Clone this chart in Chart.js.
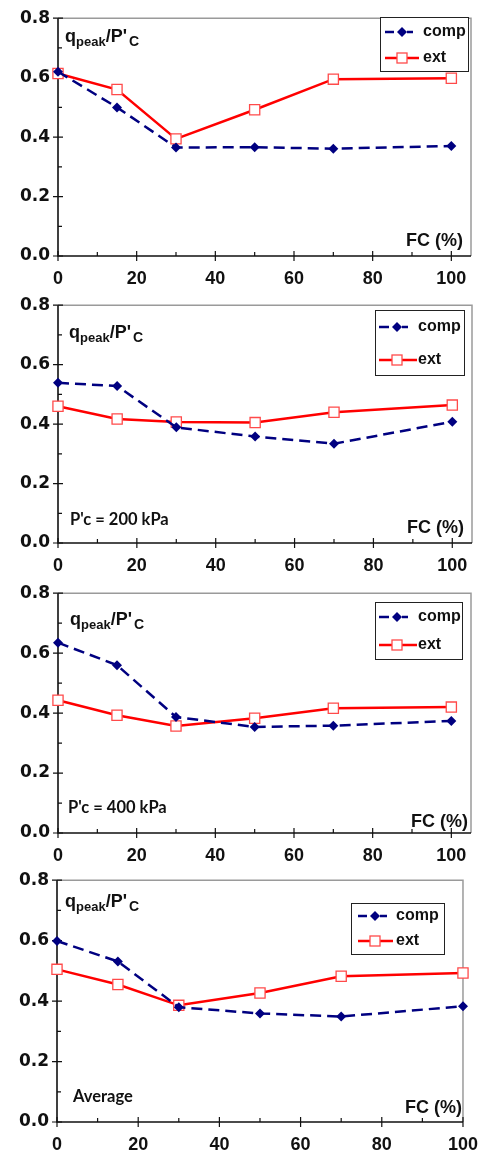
<!DOCTYPE html>
<html>
<head>
<meta charset="utf-8">
<script src="https://cdn.jsdelivr.net/npm/chart.js@4.4.0/dist/chart.umd.min.js"></script>
<style>
  html, body { margin: 0; padding: 0; background: #fff; }
  #wrap { position: relative; width: 490px; height: 1151px; }
  #wrap canvas { position: absolute; left: 0; }
</style>
</head>
<body>
<div id="wrap"></div>
<script>
// FC (%) — same x positions in every panel
var fc = [0, 15, 30, 50, 70, 100];

// qpeak / P'c for compression (comp) and extension (ext)
var comp1 = [0.62, 0.50, 0.365, 0.366, 0.361, 0.37];
var ext1  = [0.614, 0.56, 0.394, 0.492, 0.595, 0.598];
var comp2 = [0.539, 0.528, 0.389, 0.358, 0.334, 0.408];
var ext2  = [0.46, 0.417, 0.407, 0.405, 0.44, 0.464];
var comp3 = [0.635, 0.56, 0.387, 0.354, 0.358, 0.374];
var ext3  = [0.443, 0.393, 0.357, 0.383, 0.416, 0.42];
var compAvg = [0.599, 0.531, 0.38, 0.359, 0.349, 0.383];
var extAvg  = [0.505, 0.455, 0.386, 0.427, 0.482, 0.493];

var xTicks = [0, 20, 40, 60, 80, 100];
var yTicks = [0, 0.2, 0.4, 0.6, 0.8];

var BOLD = '"Liberation Sans", Arial, sans-serif';
var WIDE = '"DejaVu Sans", sans-serif';
var NAVY = '#000080';
var RED = '#ff0000';

var panels = [
  { top: 0, height: 287, comp: comp1, ext: ext1, xMax: 105, note: '',
    area: { top: 15, bottom: 256, left: 58, right: 471 },
    legend: { box: [380, 17, 88, 54], compY: 32, extY: 58, x0: 385, compEnd: 413, extEnd: 419, mark: 402, text: 423 },
    title: [65, 42], fcLabel: [463, 246], noteAt: null },
  { top: 287, height: 288, comp: comp2, ext: ext2, xMax: 105, note: "P'c = 200 kPa",
    area: { top: 15, bottom: 256, left: 58, right: 472 },
    legend: { box: [375, 23, 89, 65], compY: 40, extY: 73, x0: 379, compEnd: 408, extEnd: 417, mark: 397, text: 418 },
    title: [69, 51], fcLabel: [464, 246], noteAt: [70, 238] },
  { top: 575, height: 287, comp: comp3, ext: ext3, xMax: 105, note: "P'c = 400 kPa",
    area: { top: 16, bottom: 258, left: 58, right: 471 },
    legend: { box: [375, 27, 87, 57], compY: 42, extY: 70, x0: 379, compEnd: 408, extEnd: 417, mark: 397, text: 418 },
    title: [70, 50], fcLabel: [468, 252], noteAt: [68, 238] },
  { top: 862, height: 289, comp: compAvg, ext: extAvg, xMax: 100, note: 'Average',
    area: { top: 17, bottom: 260, left: 57, right: 471 },
    legend: { box: [351, 41, 93, 51], compY: 54, extY: 79, x0: 358, compEnd: 387, extEnd: 393, mark: 375, text: 396 },
    title: [65, 45], fcLabel: [462, 251], noteAt: [73, 240] }
];

function pairs(ys) {
  return fc.map(function (x, i) { return { x: x, y: ys[i] }; });
}

function diamond(ctx, x, y, r) {
  ctx.beginPath();
  ctx.moveTo(x, y - r); ctx.lineTo(x + r, y); ctx.lineTo(x, y + r); ctx.lineTo(x - r, y);
  ctx.closePath();
  ctx.fillStyle = NAVY; ctx.fill();
}

function square(ctx, x, y, s) {
  ctx.fillStyle = '#fff';
  ctx.fillRect(x - s / 2, y - s / 2, s, s);
  ctx.strokeStyle = '#ff4a4a'; ctx.lineWidth = 1.3;
  ctx.strokeRect(x - s / 2, y - s / 2, s, s);
}

// frame, ticks, labels and legend for one panel
function deco(p) {
  return {
    id: 'deco',
    beforeDatasetsDraw: function (chart) {
      var ctx = chart.ctx, a = chart.chartArea;
      var xs = chart.scales.x, ys = chart.scales.y;
      ctx.save();
      ctx.strokeStyle = '#9a9a9a'; ctx.lineWidth = 1.5;
      ctx.beginPath();
      ctx.moveTo(a.left, a.top); ctx.lineTo(a.right, a.top); ctx.lineTo(a.right, a.bottom);
      ctx.stroke();
      ctx.strokeStyle = '#111'; ctx.lineWidth = 1.6;
      ctx.beginPath();
      ctx.moveTo(a.left, a.top); ctx.lineTo(a.left, a.bottom); ctx.lineTo(a.right, a.bottom);
      ctx.stroke();
      ctx.lineWidth = 1.2;
      ctx.beginPath();
      for (var i = 0; i < xTicks.length; i++) {
        var px = xs.getPixelForValue(xTicks[i]);
        ctx.moveTo(px, a.bottom - 5); ctx.lineTo(px, a.bottom + 5);
        if (i < xTicks.length - 1) {
          var mx = xs.getPixelForValue((xTicks[i] + xTicks[i + 1]) / 2);
          ctx.moveTo(mx, a.bottom - 4); ctx.lineTo(mx, a.bottom);
        }
      }
      for (var j = 0; j < yTicks.length; j++) {
        var py = ys.getPixelForValue(yTicks[j]);
        ctx.moveTo(a.left - 5, py); ctx.lineTo(a.left + 5, py);
        if (j < yTicks.length - 1) {
          var my = ys.getPixelForValue((yTicks[j] + yTicks[j + 1]) / 2);
          ctx.moveTo(a.left, my); ctx.lineTo(a.left + 4, my);
        }
      }
      ctx.stroke();
      ctx.restore();
    },
    afterDraw: function (chart) {
      var ctx = chart.ctx;
      ctx.save();
      ctx.fillStyle = '#111';
      ctx.textAlign = 'left'; ctx.textBaseline = 'alphabetic';

      // qpeak/P'C
      var x = p.title[0], y = p.title[1];
      ctx.font = 'bold 18px ' + BOLD;
      ctx.fillText('q', x, y); x += ctx.measureText('q').width;
      ctx.font = 'bold 13px ' + BOLD;
      ctx.fillText('peak', x, y + 4); x += ctx.measureText('peak').width;
      ctx.font = 'bold 18px ' + BOLD;
      ctx.fillText("/P'", x, y); x += ctx.measureText("/P'").width;
      ctx.font = 'bold 14px ' + BOLD;
      ctx.fillText('C', x + 2, y + 4);

      // axis name
      ctx.font = 'bold 18px ' + BOLD;
      ctx.textAlign = 'right';
      ctx.fillText('FC (%)', p.fcLabel[0], p.fcLabel[1]);

      if (p.noteAt) {
        ctx.textAlign = 'left';
        ctx.font = 'bold 16.5px Lato, "Open Sans", sans-serif';
        ctx.fillText(p.note, p.noteAt[0], p.noteAt[1]);
      }

      // legend box
      var L = p.legend, b = L.box;
      ctx.fillStyle = '#fff';
      ctx.fillRect(b[0], b[1], b[2], b[3]);
      ctx.strokeStyle = '#222'; ctx.lineWidth = 1;
      ctx.strokeRect(b[0] + 0.5, b[1] + 0.5, b[2], b[3]);

      ctx.lineWidth = 2.5;
      ctx.strokeStyle = NAVY;
      ctx.beginPath();
      ctx.moveTo(L.x0, L.compY); ctx.lineTo(L.mark - 8, L.compY);
      ctx.moveTo(L.mark + 5, L.compY); ctx.lineTo(L.compEnd, L.compY);
      ctx.stroke();
      diamond(ctx, L.mark, L.compY, 5);

      ctx.strokeStyle = RED;
      ctx.lineWidth = 2.5;
      ctx.beginPath(); ctx.moveTo(L.x0, L.extY); ctx.lineTo(L.extEnd, L.extY); ctx.stroke();
      square(ctx, L.mark, L.extY, 10);

      ctx.fillStyle = '#111';
      ctx.textAlign = 'left'; ctx.textBaseline = 'middle';
      ctx.font = 'bold 16px ' + BOLD;
      ctx.fillText('comp', L.text, L.compY);
      ctx.fillText('ext', L.text, L.extY);
      ctx.restore();
    }
  };
}

var wrap = document.getElementById('wrap');

panels.forEach(function (p) {
  var cv = document.createElement('canvas');
  cv.width = 490; cv.height = p.height;
  cv.style.top = p.top + 'px';
  cv.style.width = '490px'; cv.style.height = p.height + 'px';
  wrap.appendChild(cv);

  new Chart(cv, {
    type: 'line',
    data: {
      datasets: [
        {
          label: 'comp',
          data: pairs(p.comp),
          borderColor: NAVY,
          backgroundColor: NAVY,
          borderWidth: 2.5,
          borderDash: [11, 6],
          pointStyle: 'rectRot',
          pointRadius: 5,
          pointBorderWidth: 0,
          pointBackgroundColor: NAVY,
          tension: 0,
          clip: false
        },
        {
          label: 'ext',
          data: pairs(p.ext),
          borderColor: RED,
          borderWidth: 2.5,
          pointStyle: 'rect',
          pointRadius: 7.2,
          pointBorderWidth: 1.3,
          pointBorderColor: '#ff4a4a',
          pointBackgroundColor: '#fff',
          tension: 0,
          clip: false
        }
      ]
    },
    options: {
      responsive: false,
      animation: false,
      devicePixelRatio: 1,
      layout: { padding: { top: p.area.top, right: 490 - p.area.right, left: 0, bottom: 0 } },
      plugins: { legend: { display: false }, tooltip: { enabled: false } },
      scales: {
        x: {
          type: 'linear',
          min: 0,
          max: p.xMax,
          grid: { display: false, drawTicks: false },
          border: { display: false },
          afterBuildTicks: function (s) { s.ticks = xTicks.map(function (v) { return { value: v }; }); },
          afterFit: function (s) { s.height = p.height - p.area.bottom; },
          ticks: {
            autoSkip: false, maxRotation: 0, padding: 12, color: '#111',
            font: { family: BOLD, size: 18, weight: 'bold' }
          }
        },
        y: {
          min: 0,
          max: 0.8,
          grid: { display: false, drawTicks: false },
          border: { display: false },
          afterBuildTicks: function (s) { s.ticks = yTicks.map(function (v) { return { value: v }; }); },
          afterFit: function (s) { s.width = p.area.left; },
          ticks: {
            padding: 8, color: '#111',
            font: { family: WIDE, size: 17, weight: 'bold' },
            callback: function (v) { return Number(v).toFixed(1); }
          }
        }
      }
    },
    plugins: [deco(p)]
  });
});
</script>
</body>
</html>
